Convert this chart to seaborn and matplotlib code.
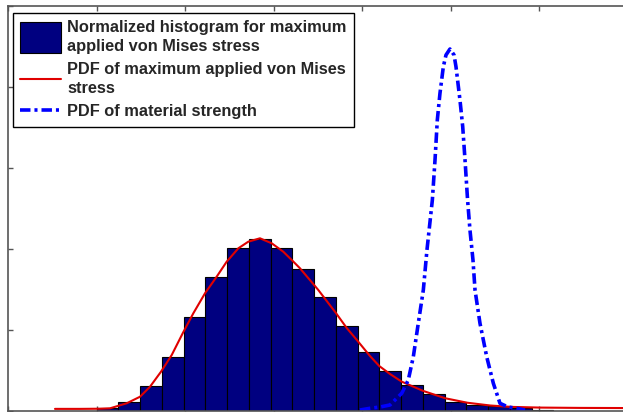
import matplotlib
matplotlib.use("Agg")
import matplotlib.pyplot as plt
import seaborn as sns
import pandas as pd
from matplotlib.patches import Patch, Rectangle
from matplotlib.lines import Line2D
from matplotlib.legend_handler import HandlerPatch

# ---------------- data ----------------
bin_start = 1.0
bin_width = 0.2458
hist_heights = [0.025, 0.10, 0.30, 0.66, 1.15, 1.65, 2.01, 2.12, 2.01, 1.75,
                1.40, 1.04, 0.72, 0.49, 0.32, 0.20, 0.11, 0.074, 0.05, 0.025, 0.012]

stress_x = [0.531, 0.814, 1.040, 1.153, 1.341, 1.492, 1.605, 1.729, 1.850, 1.974,
            2.094, 2.226, 2.358, 2.471, 2.602, 2.715, 2.847, 2.980, 3.111, 3.206,
            3.299, 3.506, 3.703, 3.827, 3.951, 4.090, 4.195, 4.316, 4.449, 4.580,
            4.693, 4.941, 5.190, 5.446, 5.672, 6.011, 6.463, 7.028]
stress_pdf = [0.020, 0.020, 0.022, 0.027, 0.089, 0.170, 0.294, 0.479, 0.685, 0.953,
              1.200, 1.447, 1.652, 1.837, 2.002, 2.084, 2.126, 2.064, 1.960, 1.858,
              1.756, 1.488, 1.207, 1.019, 0.858, 0.673, 0.549, 0.451, 0.356, 0.294,
              0.241, 0.151, 0.096, 0.062, 0.045, 0.036, 0.032, 0.030]

strength_x = [3.977, 4.090, 4.203, 4.316, 4.449, 4.523, 4.580, 4.636, 4.693, 4.734,
              4.795, 4.825, 4.851, 4.881, 4.919, 4.949, 4.994, 5.040, 5.062, 5.107,
              5.138, 5.164, 5.193, 5.220, 5.254, 5.277, 5.333, 5.409, 5.484, 5.559,
              5.650, 5.748, 5.842]
strength_pdf = [0.006, 0.027, 0.043, 0.068, 0.212, 0.377, 0.664, 1.077, 1.488, 1.981,
                2.599, 3.093, 3.586, 3.916, 4.244, 4.389, 4.463, 4.389, 4.244, 3.833,
                3.504, 3.093, 2.599, 2.228, 1.858, 1.488, 1.077, 0.664, 0.336, 0.089,
                0.043, 0.027, 0.006]

labels = ["Normalized histogram for maximum\napplied von Mises stress",
          "PDF of maximum applied von Mises\nstress",
          "PDF of material strength"]

# ---------------- figure ----------------
sns.set_style("white")
plt.rcParams['font.family'] = ['Liberation Sans', 'DejaVu Sans']

W, H = 623, 412
fig = plt.figure(figsize=(W / 100, H / 100), dpi=100)
ax = fig.add_axes([8 / W, 1.5 / H, 619.5 / W, 405 / H])

edges = [bin_start + bin_width * k for k in range(len(hist_heights) + 1)]
centers = [(edges[k] + edges[k + 1]) / 2 for k in range(len(hist_heights))]
df_hist = pd.DataFrame({"x": centers, "w": hist_heights})

navy = "#000080"
sns.histplot(data=df_hist, x="x", weights="w", bins=edges, stat="count",
             color=navy, edgecolor="black", linewidth=0.8, alpha=1, ax=ax)

sns.lineplot(x=stress_x, y=stress_pdf, color="#e00000", linewidth=1.5, ax=ax)
sns.lineplot(x=strength_x, y=strength_pdf, color="#0000ff", linewidth=2.6,
             linestyle=(0, (2.9, 1.1, 0.85, 1.1)), ax=ax)

ax.set_xlim(0, 7)
ax.set_ylim(0, 5)
ax.set_xticks(range(0, 8))
ax.set_yticks(range(0, 6))
ax.set_xlabel("")
ax.set_ylabel("")
ax.tick_params(labelbottom=False, labelleft=False, direction="in",
               top=True, right=True, bottom=True, left=True,
               length=3.6, width=1, color="#555555")
for sp in ax.spines.values():
    sp.set_visible(True)
    sp.set_color("#555555")
    sp.set_linewidth(1.2)

RECT_H = 22.5  # points: tall swatch spanning the two-line label


def tall_rect(legend, orig_handle, xdescent, ydescent, width, height, fontsize):
    cy = -ydescent + height / 2
    return Rectangle((-xdescent, cy - RECT_H / 2), width, RECT_H)


fs = 11.8
hist_handle = Patch(facecolor=navy, edgecolor="black", linewidth=0.8)
handles = [hist_handle,
           Line2D([], [], color="#e00000", linewidth=1.5),
           Line2D([], [], color="#0000ff", linewidth=2.6,
                  linestyle=(0, (2.9, 1.1, 0.85, 1.1)))]
leg = ax.legend(handles, labels, loc="upper left",
                bbox_to_anchor=(5 / 619.5, 1 - 7.5 / 405), borderaxespad=0,
                prop={"weight": "bold", "size": fs}, handlelength=2.45,
                handletextpad=0.4, labelspacing=0.52,
                borderpad=0.45, fancybox=False, framealpha=1, edgecolor="black",
                handler_map={hist_handle: HandlerPatch(patch_func=tall_rect)})
leg.get_frame().set_linewidth(1.0)
for t in leg.get_texts():
    t.set_linespacing(1.28)

fig.savefig("out.png", dpi=100)
